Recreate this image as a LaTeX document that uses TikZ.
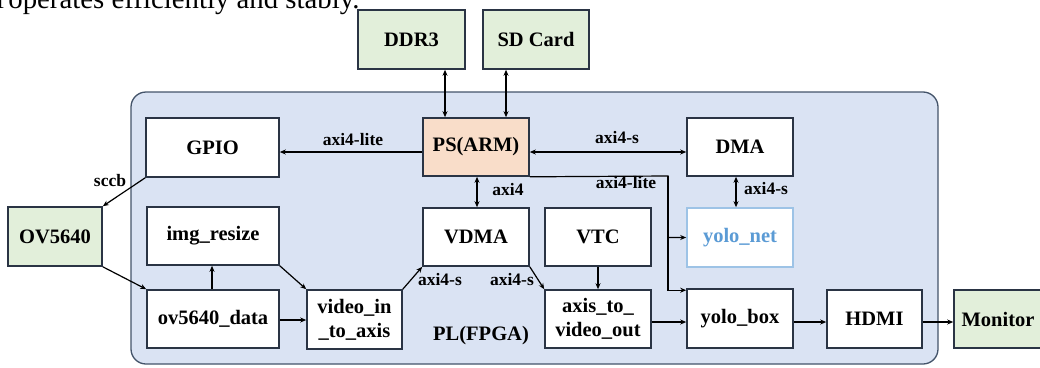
\documentclass[tikz,border=0pt]{standalone}
\usepackage{fontspec}
\setmainfont{Liberation Serif}
\usetikzlibrary{arrows.meta}
\definecolor{plfill}{HTML}{DAE3F3}
\definecolor{plline}{HTML}{44546A}
\definecolor{boxline}{HTML}{2A3444}
\definecolor{greenfill}{HTML}{E2EFDA}
\definecolor{peach}{HTML}{F9DDC9}
\definecolor{lblue}{HTML}{9DC3E6}
\definecolor{tblue}{HTML}{5B9BD5}
\begin{document}
\begin{tikzpicture}[x=1pt,y=-1pt,
  box/.style={draw=boxline, line width=1.6pt, fill=white, inner sep=0pt,
    font=\bfseries\fontsize{20.5}{24}\selectfont, align=center},
  ext/.style={box, fill=greenfill},
  lbl/.style={font=\bfseries\fontsize{17.5}{19}\selectfont, inner sep=0pt},
  arr/.style={-{Stealth[length=6pt,width=5pt]}, line width=1.2pt},
  barr/.style={{Stealth[length=6pt,width=5pt]}-{Stealth[length=6pt,width=5pt]}, line width=1.2pt},
  conn/.style={line width=1.2pt}]
\useasboundingbox (0,0) rectangle (1040,367);
\clip (0,0) rectangle (1040,367);

\node[anchor=base west, inner sep=0pt, font=\fontsize{28.8}{30}\selectfont] (top) at (-4,8) {l\hspace{-3pt} operates efficiently and stably.};

\node[draw=plline, line width=1.3pt, fill=plfill, rounded corners=15pt,
  minimum width=807pt, minimum height=272pt, inner sep=0pt] (pl) at (534.5,228) {};

\node[ext, minimum width=107pt, minimum height=59pt] (ddr) at (411.5,39.5) {DDR3};
\node[ext, minimum width=106pt, minimum height=59pt] (sd) at (536,39.5) {SD Card};
\node[box, fill=peach, minimum width=106pt, minimum height=58pt] (ps) at (476,147) {PS(ARM)};
\node[box, minimum width=133pt, minimum height=59pt] (gpio) at (212.5,147.5) {GPIO};
\node[box, minimum width=106pt, minimum height=58pt] (dma) at (740,147) {DMA};
\node[ext, minimum width=94pt, minimum height=59pt] (ov) at (55,236.5) {OV5640};
\node[box, minimum width=132pt, minimum height=58pt] (resize) at (213,236) {img\_resize};
\node[box, minimum width=132pt, minimum height=58pt] (ovdata) at (213,319) {ov5640\_data};
\node[box, minimum width=95pt, minimum height=59pt] (vin) at (354.5,319.5) {video\_in\\\_to\_axis};
\node[box, minimum width=106pt, minimum height=58pt] (vdma) at (476,237) {VDMA};
\node[box, minimum width=106pt, minimum height=58pt] (vtc) at (598,237) {VTC};
\node[box, minimum width=106pt, minimum height=58pt] (axis) at (598,319) {axis\_to\_\\video\_out};
\node[box, draw=lblue, text=tblue, minimum width=106pt, minimum height=59pt] (ynet) at (740,237.5) {yolo\_net};
\node[box, minimum width=106pt, minimum height=59pt] (ybox) at (740,318.5) {yolo\_box};
\node[box, minimum width=95pt, minimum height=58pt] (hdmi) at (874.5,319) {HDMI};
\node[ext, minimum width=92pt, minimum height=58pt] (mon) at (1000,319) {\hspace*{-4pt}Monitor};

\coordinate (x445) at (445,0);
\coordinate (x506) at (506,0);
\coordinate (x477) at (477,0);
\coordinate (x736) at (736,0);
\coordinate (x598) at (598,0);
\coordinate (x212) at (212,0);
\coordinate (y152) at (0,152);
\coordinate (y320) at (0,320);
\coordinate (y322) at (0,322);
\coordinate (bend) at (668,176);

\draw[barr] (ddr.south -| x445) -- (ps.north -| x445);
\draw[barr] (sd.south -| x506) -- (ps.north -| x506);
\draw[arr] (ps.west |- y152) -- (gpio.east |- y152);
\draw[barr] (ps.east |- y152) -- (dma.west |- y152);
\draw[barr] (ps.south -| x477) -- (vdma.north -| x477);
\draw[barr] (dma.south -| x736) -- (ynet.north -| x736);
\draw[arr] (ps.south east) -- (bend) |- (ynet.west);
\draw[arr] (bend) |- ([yshift=-2pt]ybox.north west);
\draw[arr] (gpio.south west) -- (ov.north east);
\draw[arr] (ov.south east) -- (ovdata.north west);
\draw[arr] (ovdata.north -| x212) -- (resize.south -| x212);
\draw[arr] (ovdata.east |- y320) -- (vin.west |- y320);
\draw[arr] (resize.south east) -- (vin.north west);
\draw[arr] (vin.north east) -- (vdma.south west);
\draw[arr] (vdma.south east) -- (axis.north west);
\draw[arr] (vtc.south -| x598) -- (axis.north -| x598);
\draw[arr] (axis.east |- y322) -- (ybox.west |- y322);
\draw[arr] (ybox.east |- y322) -- (hdmi.west |- y322);
\draw[arr] (hdmi.east |- y322) -- (mon.west |- y322);

\node[lbl] (l1) at (353,140) {axi4-lite};
\node[lbl] (l2) at (617,138) {axi4-s};
\node[lbl] (l3) at (626,183) {axi4-lite};
\node[lbl] (l4) at (508,190) {axi4};
\node[lbl] (l5) at (766,189) {axi4-s};
\node[lbl] (l6) at (110,181) {sccb};
\node[lbl] (l7) at (440,280) {axi4-s};
\node[lbl] (l8) at (512,280) {axi4-s};
\node[font=\bfseries\fontsize{20.5}{24}\selectfont, inner sep=0pt] (pllbl) at (481,336) {PL(FPGA)};
\end{tikzpicture}
\end{document}
